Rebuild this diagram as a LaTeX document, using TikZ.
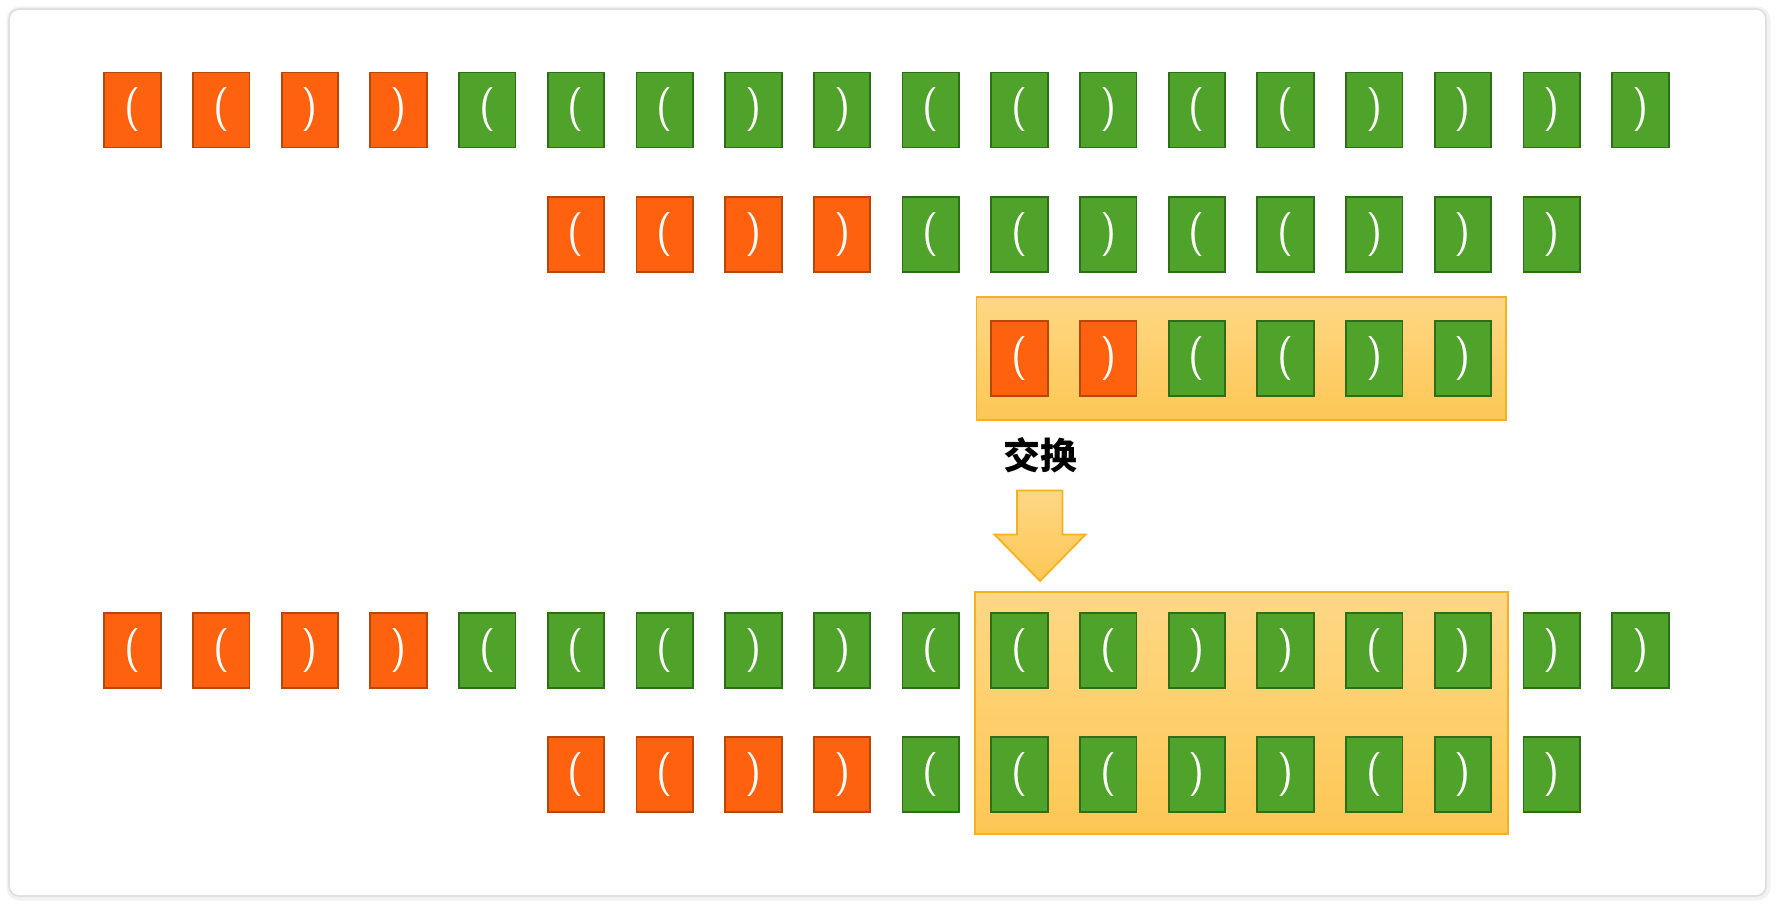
\documentclass[tikz,border=0pt]{standalone}
\usepackage{fontspec}
\usepackage{xcolor}
\usepackage{tikz}
\usetikzlibrary{positioning, fit, backgrounds}
\newfontfamily\cjk{Noto Sans CJK SC}
\definecolor{hotfill}{HTML}{FE620E}
\definecolor{hotline}{HTML}{B8470A}
\definecolor{okfill}{HTML}{4FA32A}
\definecolor{okline}{HTML}{2F6E18}
\definecolor{wintop}{HTML}{FED785}
\definecolor{winbot}{HTML}{FDC754}
\definecolor{winline}{HTML}{F4B220}
\tikzstyle{paren} = [minimum width=1.13cm, minimum height=1.5cm, inner sep=0pt, line width=1pt, text=white, font=\sffamily\fontsize{25}{25}\selectfont]
\tikzstyle{hot} = [paren, fill=hotfill, draw=hotline]
\tikzstyle{ok} = [paren, fill=okfill, draw=okline]
\tikzstyle{window} = [draw=winline, line width=1pt, top color=wintop, bottom color=winbot, inner sep=0pt]
\tikzstyle{blockarrow} = [draw=winline, line width=1pt, top color=wintop, bottom color=winbot]
\tikzstyle{card} = [fill=white, draw=black!12, line width=1pt, rounded corners=0.2cm]

\begin{document}
\begin{tikzpicture}[x=0.02cm, y=-0.02cm]
    \useasboundingbox (0,0) rectangle (1776,906);

    \foreach \s/\t [count=\i from 0] in {hot/(,hot/(,hot/),hot/),ok/(,ok/(,ok/(,ok/),ok/),ok/(,ok/(,ok/),ok/(,ok/(,ok/),ok/),ok/),ok/)}
        \node[\s] (r1-\i) at ({132.5+88.7*\i},110) {\t};
    \foreach \s/\t [count=\i from 5] in {hot/(,hot/(,hot/),hot/),ok/(,ok/(,ok/),ok/(,ok/(,ok/),ok/),ok/)}
        \node[\s] (r2-\i) at ({132.5+88.7*\i},234.5) {\t};
    \foreach \s/\t [count=\i from 10] in {hot/(,hot/),ok/(,ok/(,ok/),ok/)}
        \node[\s] (r3-\i) at ({132.5+88.7*\i},358.5) {\t};
    \foreach \s/\t [count=\i from 0] in {hot/(,hot/(,hot/),hot/),ok/(,ok/(,ok/(,ok/),ok/),ok/(,ok/(,ok/(,ok/),ok/),ok/(,ok/),ok/),ok/)}
        \node[\s] (r4-\i) at ({132.5+88.7*\i},650.7) {\t};
    \foreach \s/\t [count=\i from 5] in {hot/(,hot/(,hot/),hot/),ok/(,ok/(,ok/(,ok/),ok/),ok/(,ok/),ok/)}
        \node[\s] (r5-\i) at ({132.5+88.7*\i},774.8) {\t};

    \begin{scope}[on background layer]
        \draw[black!5, line width=4pt, rounded corners=0.2cm] (10,10) rectangle (1767,897);
        \draw[card] (9,9) rectangle (1766,896);
        \node[window, fit=(r3-10)(r3-15), inner xsep=0.28cm, inner ysep=0.47cm] (before) {};
        \node[window, fit=(r4-10)(r5-15), inner xsep=0.31cm, inner ysep=0.41cm] (after) {};
    \end{scope}

    \coordinate (tip) at (1040,581);
    \draw[blockarrow] (1017,490.5) -- (1062.5,490.5) -- (1062.5,534.6) -- (1085.5,534.6)
        -- (tip) -- (994.5,534.6) -- (1017,534.6) -- cycle;
    \node[font=\cjk\bfseries\fontsize{21}{21}\selectfont, inner sep=0pt] (swap) at (1040,455) {交换};
\end{tikzpicture}
\end{document}
